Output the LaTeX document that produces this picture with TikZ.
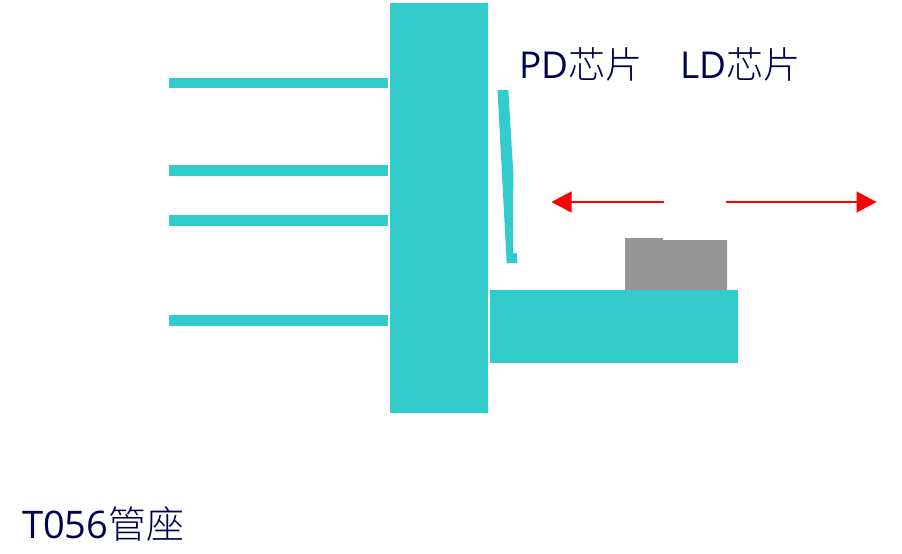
\documentclass[tikz,border=0pt]{standalone}
\usepackage{fontspec}
\setmainfont{Open Sans}
\newfontfamily\cjk{Noto Sans CJK SC Light}
\usetikzlibrary{arrows.meta}
\definecolor{teal1}{RGB}{51,204,204}
\definecolor{gray1}{RGB}{150,150,150}
\definecolor{navy1}{RGB}{0,0,80}
\begin{document}
\begin{tikzpicture}[x=1pt,y=-1pt]
    \def\dx{1}
    \def\dy{1}

    \tikzstyle{part}=[fill=teal1]
    \tikzstyle{chip}=[fill=gray1]
    \tikzstyle{word}=[text=navy1,font=\fontsize{37}{42}\selectfont,inner sep=0pt,anchor=base west]
    \tikzstyle{fwd}=[draw=red,line width=1.5pt,-{Triangle[length=20pt,width=21pt]},shorten >=-0.5pt]

    \useasboundingbox (0,0) rectangle (902,554);

    % pins
    \foreach \y/\h in {78/10,165/11,215/11,315/11}
        \fill[part] (169*\dx,\y*\dy) rectangle (388*\dx,\y*\dy+\h*\dy);

    \fill[part] (390*\dx,3*\dy) rectangle (488*\dx,413*\dy);
    \fill[part] (490*\dx,290*\dy) rectangle (738*\dx,363*\dy);
    \fill[part] (497.5,90) -- (508.3,90) -- (513.3,173) -- (513,253) -- (516.7,253)
        -- (517.5,263) -- (506.7,263.3) -- cycle;

    \fill[chip] (625*\dx,238*\dy) -- (663,238) -- (663,240) -- (727,240) -- (727,290) -- (625,290) -- cycle;

    \node[word]  (pd) at (519.5*\dx,78*\dy) {PD{\cjk 芯片}};
    \node[word]  (ld) at (680.5*\dx,78*\dy) {LD{\cjk 芯片}};
    \node[word,font=\fontsize{38}{42}\selectfont]  (t056) at (22*\dx,538*\dy) {T056{\cjk 管座}};

    \coordinate (lstart) at (664*\dx,202*\dy);
    \coordinate (lend) at (552*\dx,202*\dy);
    \coordinate (rstart) at (726*\dx,202*\dy);
    \coordinate (rend) at (876*\dx,202*\dy);

    \draw [fwd] (lstart) -- (lend);
    \draw [fwd] (rstart) -- (rend);
\end{tikzpicture}
\end{document}
